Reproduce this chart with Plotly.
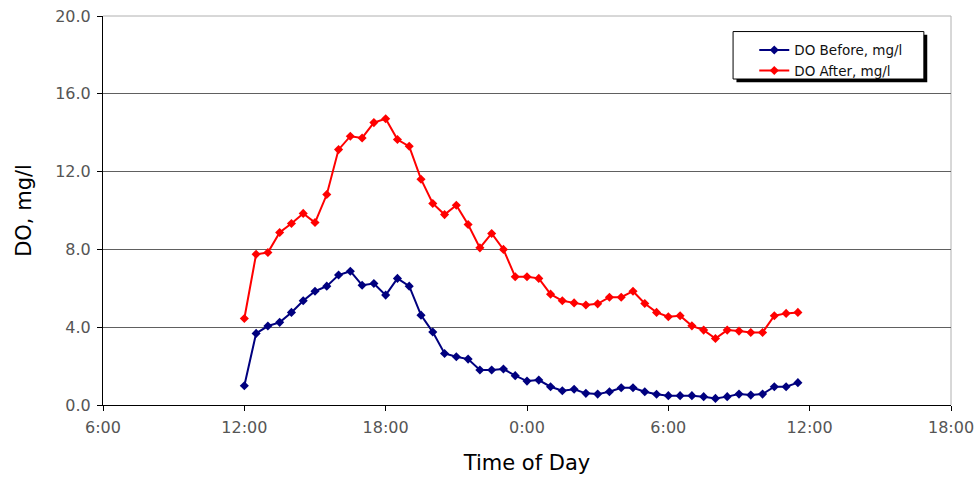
import pandas as pd
import plotly.graph_objects as go

# Half-hourly sampling times, 12:00 to 11:30 next day
times = pd.date_range("2020-01-01 12:00", periods=48, freq="30min")

do_before = [0.99, 3.68, 4.06, 4.25, 4.76, 5.36, 5.85, 6.11, 6.68, 6.88,
             6.16, 6.25, 5.65, 6.51, 6.11, 4.62, 3.75, 2.65, 2.48, 2.36,
             1.80, 1.80, 1.85, 1.51, 1.23, 1.28, 0.94, 0.73, 0.81, 0.60,
             0.56, 0.68, 0.89, 0.89, 0.68, 0.55, 0.48, 0.48, 0.48, 0.43,
             0.34, 0.43, 0.56, 0.51, 0.56, 0.94, 0.94, 1.15]

do_after = [4.45, 7.75, 7.84, 8.87, 9.33, 9.85, 9.38, 10.82, 13.13, 13.82,
            13.73, 14.52, 14.72, 13.65, 13.30, 11.61, 10.36, 9.79, 10.27, 9.28,
            8.08, 8.82, 8.00, 6.59, 6.59, 6.51, 5.70, 5.36, 5.25, 5.14,
            5.20, 5.54, 5.54, 5.85, 5.22, 4.76, 4.54, 4.59, 4.07, 3.85,
            3.42, 3.85, 3.80, 3.73, 3.73, 4.59, 4.71, 4.76]

series_names = ["DO Before, mg/l", "DO After, mg/l"]
series_colors = ["#00007F", "#FF0000"]

y_ticks = [0, 4, 8, 12, 16, 20]
y_ticktext = ["0.0", "4.0", "8.0", "12.0", "16.0", "20.0"]

FONT = "DejaVu Sans"

fig = go.Figure()
for i, (name, vals, col) in enumerate(zip(series_names, [do_before, do_after], series_colors)):
    fig.add_trace(go.Scatter(
        x=times, y=vals, name=name, mode="lines+markers",
        line=dict(color=col, width=2),
        marker=dict(symbol="diamond", size=7, color=col),
    ))

# legend frame with drop shadow (paper coords)
lx0, lx1, ly0, ly1 = 0.743, 0.968, 0.838, 0.960
dx, dy = 0.0040, 0.0085
fig.add_shape(type="rect", xref="paper", yref="paper",
              x0=lx0 + dx, x1=lx1 + dx, y0=ly0 - dy, y1=ly1 - dy,
              fillcolor="black", line=dict(width=0), layer="above")
fig.add_shape(type="rect", xref="paper", yref="paper",
              x0=lx0, x1=lx1, y0=ly0, y1=ly1,
              fillcolor="white", line=dict(color="black", width=1), layer="above")
# light top / right border
fig.add_shape(type="line", xref="paper", yref="paper", x0=0, x1=1, y0=1, y1=1,
              line=dict(color="#B0B0B0", width=1), layer="below")
fig.add_shape(type="line", xref="paper", yref="paper", x0=1, x1=1, y0=0, y1=1,
              line=dict(color="#B0B0B0", width=1), layer="below")

fig.update_layout(
    width=976, height=477,
    margin=dict(l=103, r=25, t=16, b=72, autoexpand=False),
    plot_bgcolor="white", paper_bgcolor="white",
    font=dict(family=FONT, color="#555555"),
    showlegend=True,
    legend=dict(x=lx0 + 0.025, y=ly1 - 0.008, xanchor="left", yanchor="top",
                bgcolor="rgba(0,0,0,0)", borderwidth=0,
                font=dict(family=FONT, size=13.5, color="#111111"),
                traceorder="normal"),
    xaxis=dict(
        type="date", automargin=False,
        range=["2020-01-01 06:00", "2020-01-02 18:00"],
        dtick=6 * 3600 * 1000, tick0="2020-01-01 06:00",
        tickformat="%-H:%M",
        showgrid=False, showline=True, linecolor="black", linewidth=1,
        ticks="outside", ticklen=5, tickcolor="black", ticklabelstandoff=3,
        tickfont=dict(size=16, color="#555555"),
        title=dict(text="Time of Day", font=dict(size=21, color="black"), standoff=19),
        zeroline=False,
    ),
    yaxis=dict(
        automargin=False,
        range=[0, 20], tickvals=y_ticks, ticktext=y_ticktext,
        showgrid=True, gridcolor="#606060", gridwidth=1,
        showline=True, linecolor="black", linewidth=1,
        ticks="outside", ticklen=5, tickcolor="black", ticklabelstandoff=3,
        tickfont=dict(size=16, color="#555555"),
        title=dict(text="DO, mg/l", font=dict(size=21, color="black"), standoff=17),
        zeroline=False,
    ),
)

fig.write_html("out.html", config={"displayModeBar": False},
               post_script="document.body.style.margin='0';document.body.style.overflow='hidden';")
